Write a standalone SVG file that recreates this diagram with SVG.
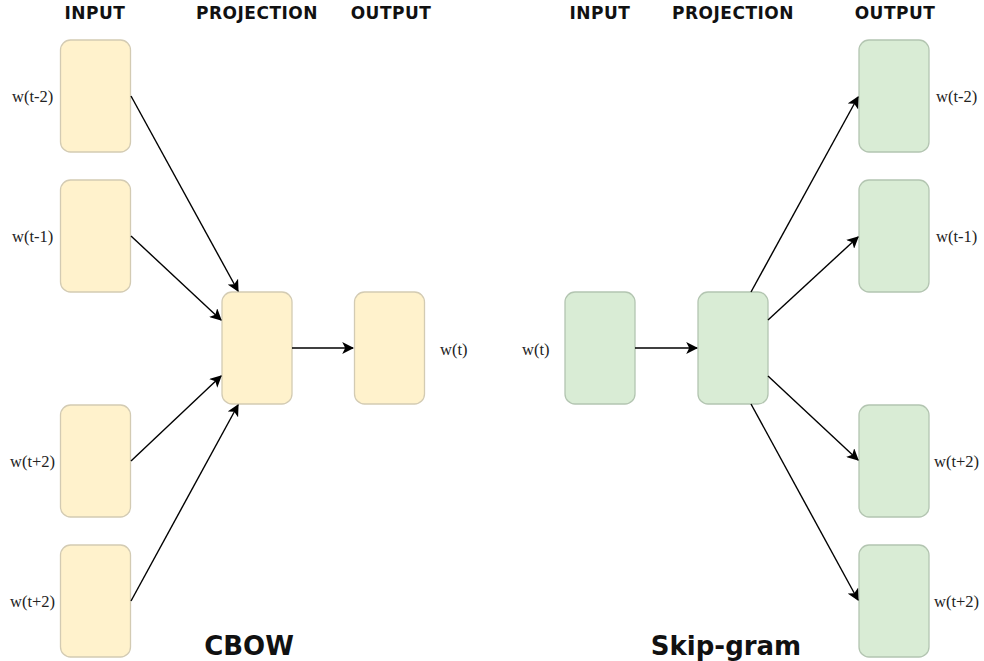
<svg xmlns="http://www.w3.org/2000/svg" width="984" height="661" viewBox="0 0 984 661">
  <style>
    .y { fill: #fff2cc; stroke: #d3cbb3; stroke-width: 1.3; }
    .g { fill: #d9ecd5; stroke: #b3c5b1; stroke-width: 1.3; }
    .lbl { font-family: "Liberation Serif", "Times New Roman", serif; font-size: 16.5px; fill: #222; }
    .hdr { font-family: "DejaVu Sans", Verdana, sans-serif; font-weight: bold; font-size: 17px; letter-spacing: 0.5px; fill: #111; text-anchor: middle; }
    .ttl { font-family: "DejaVu Sans", Verdana, sans-serif; font-weight: bold; font-size: 26px; fill: #111; text-anchor: middle; }
    .edge { stroke: #000; stroke-width: 1.4; fill: none; marker-end: url(#arr); }
  </style>
  <defs>
    <marker id="arr" viewBox="0 0 10 10" refX="9" refY="5" markerWidth="12" markerHeight="12" markerUnits="userSpaceOnUse" orient="auto">
      <path d="M0,0 L10,5 L0,10 L2.5,5 Z" fill="#000"/>
    </marker>
  </defs>
  <rect width="984" height="661" fill="#fff"/>

  <!-- column headers -->
  <g id="headers">
    <text class="hdr" x="95" y="18.5">INPUT</text>
    <text class="hdr" x="257" y="18.5">PROJECTION</text>
    <text class="hdr" x="391" y="18.5">OUTPUT</text>
    <text class="hdr" x="600" y="18.5">INPUT</text>
    <text class="hdr" x="733" y="18.5">PROJECTION</text>
    <text class="hdr" x="895" y="18.5">OUTPUT</text>
  </g>

  <!-- CBOW -->
  <g id="cbow-in-1"><rect class="y" x="60.5" y="40" width="70" height="112" rx="10"/><text class="lbl" x="12" y="102">w(t-2)</text></g>
  <g id="cbow-in-2"><rect class="y" x="60.5" y="180" width="70" height="112" rx="10"/><text class="lbl" x="12" y="242">w(t-1)</text></g>
  <g id="cbow-in-3"><rect class="y" x="60.5" y="405" width="70" height="112" rx="10"/><text class="lbl" x="10" y="467">w(t+2)</text></g>
  <g id="cbow-in-4"><rect class="y" x="60.5" y="545" width="70" height="112" rx="10"/><text class="lbl" x="10" y="607">w(t+2)</text></g>
  <g id="cbow-proj"><rect class="y" x="222" y="292" width="70" height="112" rx="10"/></g>
  <g id="cbow-out"><rect class="y" x="354.5" y="292" width="70" height="112" rx="10"/><text class="lbl" x="440" y="355">w(t)</text></g>
  <text class="ttl" x="249" y="655">CBOW</text>

  <!-- Skip-gram -->
  <g id="sg-in"><rect class="g" x="565" y="292" width="70" height="112" rx="10"/><text class="lbl" x="522" y="355">w(t)</text></g>
  <g id="sg-proj"><rect class="g" x="698" y="292" width="70" height="112" rx="10"/></g>
  <g id="sg-out-1"><rect class="g" x="859" y="40" width="70" height="112" rx="10"/><text class="lbl" x="936" y="102">w(t-2)</text></g>
  <g id="sg-out-2"><rect class="g" x="859" y="180" width="70" height="112" rx="10"/><text class="lbl" x="936" y="242">w(t-1)</text></g>
  <g id="sg-out-3"><rect class="g" x="859" y="405" width="70" height="112" rx="10"/><text class="lbl" x="934" y="467">w(t+2)</text></g>
  <g id="sg-out-4"><rect class="g" x="859" y="545" width="70" height="112" rx="10"/><text class="lbl" x="934" y="607">w(t+2)</text></g>
  <text class="ttl" x="726" y="655">Skip-gram</text>

  <!-- connectors -->
  <g id="connectors">
    <line class="edge" x1="131" y1="96" x2="238" y2="291"/>
    <line class="edge" x1="131" y1="236" x2="221" y2="320"/>
    <line class="edge" x1="131" y1="461" x2="221" y2="376"/>
    <line class="edge" x1="131" y1="601" x2="238" y2="405"/>
    <line class="edge" x1="292" y1="348" x2="353" y2="348"/>
    <line class="edge" x1="635" y1="348" x2="697" y2="348"/>
    <line class="edge" x1="751" y1="292" x2="858" y2="97"/>
    <line class="edge" x1="768" y1="320" x2="858" y2="237"/>
    <line class="edge" x1="768" y1="376" x2="858" y2="460"/>
    <line class="edge" x1="751" y1="404" x2="858" y2="600"/>
  </g>
</svg>
